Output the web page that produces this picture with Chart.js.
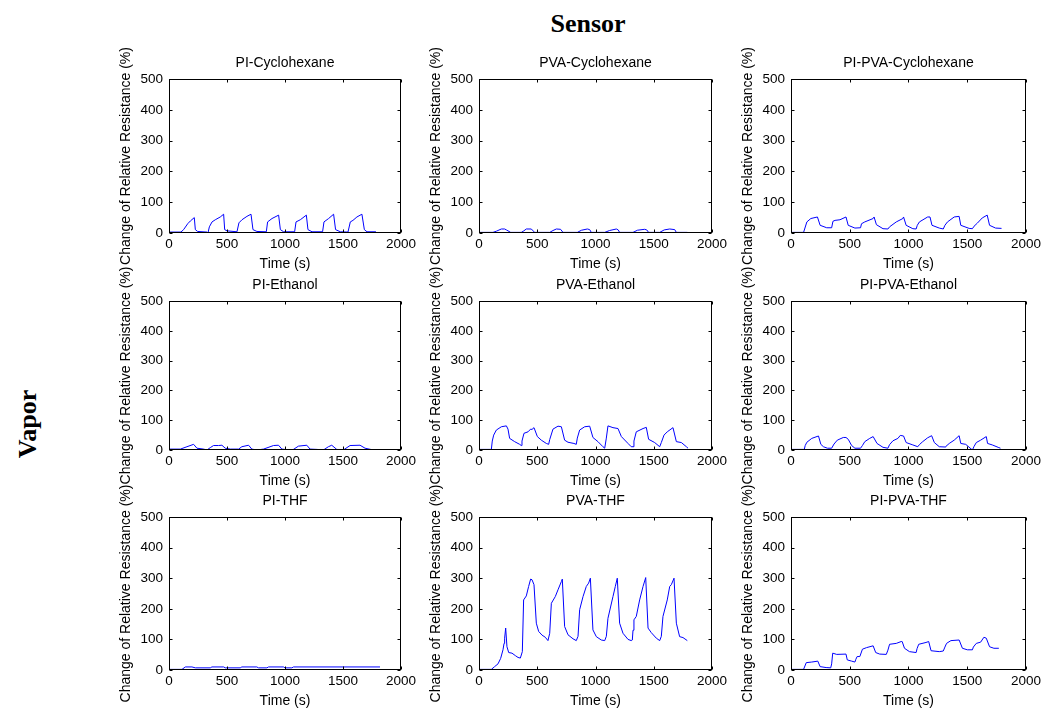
<!DOCTYPE html>
<html><head><meta charset="utf-8">
<script src="https://cdn.jsdelivr.net/npm/chart.js@4.4.1/dist/chart.umd.min.js"></script>
<style>
html,body{margin:0;padding:0;background:#fff;overflow:hidden;width:1044px;height:708px;}
#wrap{position:relative;width:1044px;height:708px;overflow:hidden;background:#fff;}
canvas{position:absolute;left:0;top:0;}
.big{position:absolute;font-family:'Liberation Serif','Times New Roman',serif;font-weight:bold;font-size:26px;line-height:26px;color:#000;white-space:nowrap;text-align:center;}
</style></head><body>
<div id="wrap">
<div class="big" style="left:488px;top:11px;width:200px;">Sensor</div>
<div class="big" style="left:-21.8px;top:411px;width:100px;height:26px;transform:rotate(-90deg);">Vapor</div>
</div>
<script>
// ---------- labels & ticks ----------
const figTitleTop = 'Sensor';
const figTitleLeft = 'Vapor';
const panelTitles = ['PI-Cyclohexane','PVA-Cyclohexane','PI-PVA-Cyclohexane','PI-Ethanol','PVA-Ethanol','PI-PVA-Ethanol','PI-THF','PVA-THF','PI-PVA-THF'];
const xLabel = 'Time (s)';
const yLabel = 'Change of Relative Resistance (%)';
const xTicks = [0,500,1000,1500,2000];
const yTicks = [0,100,200,300,400,500];

// ---------- data (time in s, response in %) ----------
const time_PI_Cyclohexane = [0,103,126,161,184,218,227,247,328,336,348,371,399,442,471,480,500,586,603,629,672,707,724,758,839,850,888,945,960,988,1083,1095,1132,1184,1198,1233,1324,1336,1376,1419,1436,1477,1543,1563,1586,1620,1663,1684,1707,1784];
const resp_PI_Cyclohexane = [3,3,11,30,39,50,11,5,3,0,20,36,43,52,61,11,7,4,33,43,54,61,11,5,4,36,47,58,11,4,4,36,43,58,11,4,4,36,47,61,11,4,3,36,41,52,61,11,4,4];

const time_PVA_Cyclohexane = [0,120,150,192,220,235,272,363,385,406,449,478,607,635,664,700,721,844,880,930,950,964,1079,1120,1179,1195,1207,1322,1360,1422,1440,1456,1551,1590,1637,1680,1694,1788];
const resp_PVA_Cyclohexane = [2,2,6,13,13,10,2,2,7,13,13,2,2,8,13,12,2,2,9,13,11,2,2,8,13,10,2,2,9,12,10,2,2,10,13,11,2,2];

const time_PIPVA_Cyclohexane = [0,107,135,169,225,248,304,346,357,375,417,468,487,544,592,600,628,699,707,727,783,825,839,896,952,958,980,1037,1065,1075,1093,1163,1183,1200,1262,1296,1310,1332,1389,1431,1445,1516,1544,1558,1586,1628,1670,1690,1741,1792];
const resp_PIPVA_Cyclohexane = [2,2,36,47,52,25,17,17,38,41,43,52,25,16,17,30,36,47,52,27,14,13,20,36,47,52,25,14,13,25,36,52,52,25,16,13,25,36,52,54,25,15,14,22,32,49,58,25,16,15];

const time_PI_Ethanol = [0,98,155,212,241,298,327,356,384,427,456,485,528,600,628,686,714,757,815,901,944,973,1044,1073,1116,1188,1216,1274,1331,1374,1403,1446,1503,1561,1647,1690,1762,1790];
const resp_PI_Ethanol = [3,3,11,19,6,3,0,8,15,15,16,6,3,3,11,16,3,0,3,15,16,3,0,2,13,16,3,2,0,11,16,2,0,15,16,6,0,0];

const time_PVA_Ethanol = [0,106,114,126,149,192,235,249,263,306,349,363,369,386,421,443,455,472,501,535,578,598,607,635,678,707,735,764,815,835,844,864,907,950,978,1021,1064,1079,1093,1107,1150,1193,1222,1279,1307,1322,1330,1350,1408,1436,1456,1508,1551,1565,1588,1616,1665,1694,1737,1780,1794];
const resp_PVA_Ethanol = [2,2,30,50,67,78,81,70,39,28,19,15,30,56,61,70,69,75,45,33,22,19,35,70,80,78,33,26,22,19,40,67,78,80,42,28,11,6,40,81,75,72,45,22,11,11,30,61,72,76,36,25,11,25,50,61,75,28,25,11,6];

const time_PIPVA_Ethanol = [0,113,121,135,177,234,254,276,310,346,366,394,445,468,487,516,544,592,608,628,670,699,732,783,825,839,868,910,930,958,980,1037,1079,1093,1121,1163,1197,1220,1262,1313,1318,1347,1389,1431,1445,1487,1538,1544,1558,1577,1614,1662,1673,1713,1769,1783];
const resp_PIPVA_Ethanol = [2,2,15,26,39,47,19,11,6,6,20,33,42,42,36,15,6,6,15,28,39,45,22,9,6,18,31,39,49,47,25,17,11,18,28,41,48,25,11,10,12,22,33,48,22,19,2,0,12,25,33,45,22,17,8,6];

const time_PI_THF = [0,112,141,198,227,356,370,471,485,614,628,757,772,844,858,987,1001,1059,1073,1819];
const resp_PI_THF = [2,2,10,10,7,7,10,10,7,7,10,10,7,7,10,10,7,7,10,10];

const time_PVA_THF = [0,106,134,163,186,206,215,220,229,240,255,283,312,335,355,372,383,406,426,443,455,472,492,512,541,569,592,607,621,655,678,707,715,735,764,807,835,850,864,893,921,941,956,978,1007,1050,1079,1093,1107,1150,1170,1187,1207,1236,1279,1307,1316,1322,1330,1350,1379,1408,1431,1451,1479,1522,1551,1565,1579,1616,1637,1651,1674,1694,1722,1751,1788];
const resp_PVA_THF = [2,2,11,20,38,66,87,104,137,76,57,55,47,41,39,60,229,242,273,297,295,279,153,126,114,107,96,120,218,240,262,289,297,142,115,102,96,110,197,240,273,284,300,131,109,98,96,110,169,240,273,300,153,120,100,96,98,130,164,175,229,273,302,137,122,104,96,110,175,229,273,279,300,153,109,106,96];

const time_PIPVA_THF = [0,107,130,177,228,248,299,338,346,355,389,468,479,516,544,552,563,586,608,642,699,721,755,811,825,839,896,938,946,966,1008,1065,1073,1087,1149,1172,1192,1262,1296,1310,1324,1361,1431,1459,1501,1544,1552,1577,1614,1642,1662,1690,1727,1769];
const resp_PIPVA_THF = [2,2,24,26,29,11,8,7,20,55,51,52,33,29,26,35,44,44,68,73,79,57,52,51,65,84,87,93,93,71,60,57,70,84,90,93,63,60,62,75,87,96,98,71,66,66,75,87,91,107,104,76,71,71];

const seriesTimes = [time_PI_Cyclohexane,time_PVA_Cyclohexane,time_PIPVA_Cyclohexane,time_PI_Ethanol,time_PVA_Ethanol,time_PIPVA_Ethanol,time_PI_THF,time_PVA_THF,time_PIPVA_THF];
const seriesResp = [resp_PI_Cyclohexane,resp_PVA_Cyclohexane,resp_PIPVA_Cyclohexane,resp_PI_Ethanol,resp_PVA_Ethanol,resp_PIPVA_Ethanol,resp_PI_THF,resp_PVA_THF,resp_PIPVA_THF];

// ---------- layout ----------
const CW = 1044, CH = 760;
const COLS = [[169,401],[479,712],[791,1027]];
const ROWS = [[79,233],[301,450],[517,670]];
const YW = 51, XH = 38, TH = 23;
const FONT = '"Liberation Sans", Arial, Helvetica, sans-serif';
Chart.defaults.font.family = FONT;
Chart.defaults.color = '#000';

const boxPlugin = {
  id: 'mbox',
  afterDraw(chart) {
    const {ctx, chartArea: a, scales: {x, y}} = chart;
    ctx.save();
    ctx.strokeStyle = '#000'; ctx.lineWidth = 1;
    const l = Math.round(a.left) + 0.5, r = Math.round(a.right) - 0.5;
    const t = Math.round(a.top) + 0.5, b = Math.round(a.bottom) - 0.5;
    ctx.strokeRect(l, t, r - l, b - t);
    ctx.beginPath();
    xTicks.forEach(v => { const p = Math.round(x.getPixelForValue(v)) + 0.5; ctx.moveTo(p, b); ctx.lineTo(p, b - 3); ctx.moveTo(p, t); ctx.lineTo(p, t + 3); });
    yTicks.forEach(v => { const p = Math.round(y.getPixelForValue(v)) + 0.5; ctx.moveTo(l, p); ctx.lineTo(l + 3, p); ctx.moveTo(r, p); ctx.lineTo(r - 3, p); });
    ctx.stroke();
    ctx.fillStyle = '#000';
    ctx.font = '14px ' + FONT;
    ctx.translate(a.left - 43, (a.top + a.bottom) / 2);
    ctx.rotate(-Math.PI / 2);
    ctx.textAlign = 'center'; ctx.textBaseline = 'middle';
    ctx.fillText(yLabel, 0, 0);
    ctx.restore();
  }
};

const wrap = document.getElementById('wrap');
for (let i = 0; i < 9; i++) {
  const col = i % 3, row = Math.floor(i / 3);
  const [L, R] = COLS[col], [T, B] = ROWS[row];
  const cv = document.createElement('canvas');
  cv.width = CW; cv.height = CH;
  cv.style.width = CW + 'px'; cv.style.height = CH + 'px';
  wrap.appendChild(cv);
  const pts = seriesTimes[i].map((t, k) => ({x: t, y: seriesResp[i][k]}));
  new Chart(cv, {
    type: 'line',
    data: {datasets: [{data: pts, borderColor: '#0000ff', borderWidth: 1, pointRadius: 0, tension: 0, fill: false}]},
    options: {
      responsive: false, animation: false, devicePixelRatio: 1, events: [],
      layout: {padding: {left: L - YW, right: CW - R, top: T - TH, bottom: CH - B - XH}},
      plugins: {
        legend: {display: false}, tooltip: {enabled: false},
        title: {display: true, fullSize: false, text: panelTitles[i], color: '#000',
                font: {size: 14, weight: 'normal', lineHeight: 1}, padding: {top: 0, bottom: TH - 14}}
      },
      scales: {
        x: {
          type: 'linear', min: 0, max: 2000,
          afterBuildTicks(s) { s.ticks = xTicks.map(v => ({value: v})); },
          afterFit(s) { s.height = XH; },
          grid: {display: false, drawTicks: false}, border: {display: false},
          ticks: {padding: 3, color: '#000', font: {size: 13.5}, maxRotation: 0, autoSkip: false, callback: v => String(v)},
          title: {display: true, text: xLabel, color: '#000', font: {size: 14, lineHeight: 1}, padding: {top: 0, bottom: 0}}
        },
        y: {
          type: 'linear', min: 0, max: 500,
          afterBuildTicks(s) { s.ticks = yTicks.map(v => ({value: v})); },
          afterFit(s) { s.width = YW; },
          grid: {display: false, drawTicks: false}, border: {display: false},
          ticks: {padding: 6, color: '#000', font: {size: 13.5}, autoSkip: false, callback: v => String(v)}
        }
      }
    },
    plugins: [boxPlugin]
  });
}
</script>
</body></html>
